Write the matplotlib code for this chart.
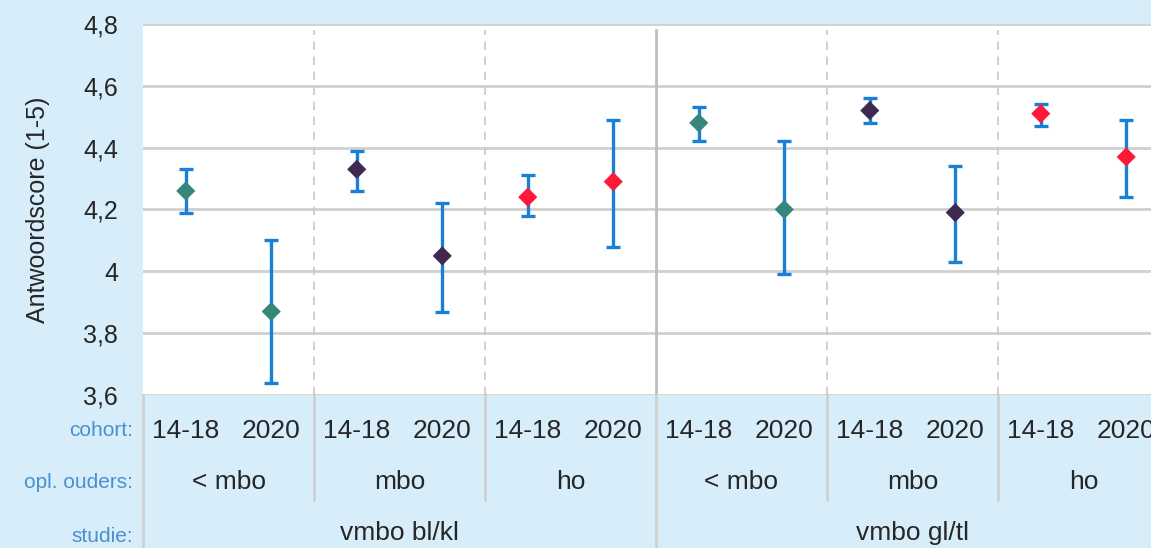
import matplotlib.pyplot as plt
import matplotlib.transforms as mtransforms

plt.rcParams['font.family'] = ['Liberation Sans', 'DejaVu Sans']

# gegevens
cohort = ['14-18', '2020'] * 6
ouders = ['< mbo', 'mbo', 'ho', '< mbo', 'mbo', 'ho']
studie = ['vmbo bl/kl', 'vmbo gl/tl']
score = [4.26, 3.87, 4.33, 4.05, 4.24, 4.29, 4.48, 4.20, 4.52, 4.19, 4.51, 4.37]
ondergrens = [4.19, 3.64, 4.26, 3.87, 4.18, 4.08, 4.42, 3.99, 4.48, 4.03, 4.47, 4.24]
bovengrens = [4.33, 4.10, 4.39, 4.22, 4.31, 4.49, 4.53, 4.42, 4.56, 4.34, 4.54, 4.49]
yticks = [3.6, 3.8, 4.0, 4.2, 4.4, 4.6, 4.8]
ytick_labels = ['3,6', '3,8', '4', '4,2', '4,4', '4,6', '4,8']

kleur_ouders = {'< mbo': '#35877a', 'mbo': '#40294f', 'ho': '#ff1838'}
bg = '#d7eefa'
tekstkleur = '#262626'
rijkleur = '#4a8fd0'
lijnkleur = '#d0d0d0'

W, H = 1151, 548
fig = plt.figure(figsize=(W / 100, H / 100), dpi=100, facecolor=bg)
left, right, top, bottom = 143, 1169, 24, 395
ax = fig.add_axes([left / W, (H - bottom) / H, (right - left) / W, (bottom - top) / H])
ax.set_facecolor('white')

x = list(range(len(score)))
yerr = [[s - lo for s, lo in zip(score, ondergrens)],
        [hi - s for s, hi in zip(score, bovengrens)]]

ax.errorbar(x, score, yerr=yerr, fmt='none', ecolor='#1a7fd6',
            elinewidth=2.4, capsize=5, capthick=2.4, zorder=3)
kleuren = [kleur_ouders[ouders[i // 2]] for i in x]
ax.scatter(x, score, marker='D', s=95, c=kleuren, zorder=4, linewidths=0)

ax.set_xlim(-0.5, len(score) - 0.5)
ax.set_ylim(3.6, 4.8)
ax.set_yticks(yticks)
ax.set_yticklabels(ytick_labels, fontsize=18, color=tekstkleur)
ax.set_xticks([])
ax.tick_params(axis='y', length=0, pad=18)
for s in ax.spines.values():
    s.set_visible(False)
for yv in yticks:
    ax.axhline(yv, color=lijnkleur, lw=2, zorder=1)

# scheidingslijnen in het plotgebied
for b in [1.5, 3.5, 7.5, 9.5]:
    ax.axvline(b, ymax=0.985, color='#c8c8c8', lw=1.2, ls=(0, (5, 4)), zorder=1)
ax.axvline(5.5, ymax=0.985, color='#bdbdbd', lw=2, zorder=1)

ax.set_ylabel('Antwoordscore (1-5)', fontsize=18, color=tekstkleur, labelpad=24)

# tabel onder de grafiek
trans = mtransforms.blended_transform_factory(ax.transData, ax.transAxes)
hpx = bottom - top


def ay(ypix):
    return (bottom - ypix) / hpx


for i, c in enumerate(cohort):
    ax.text(i, ay(431), c, transform=trans, ha='center', va='center',
            fontsize=19, color=tekstkleur, clip_on=False)
for g, o in enumerate(ouders):
    ax.text(2 * g + 0.5, ay(482), o, transform=trans, ha='center', va='center',
            fontsize=19, color=tekstkleur, clip_on=False)
for k, s in enumerate(studie):
    ax.text(6 * k + 2.5, ay(533), s, transform=trans, ha='center', va='center',
            fontsize=19, color=tekstkleur, clip_on=False)

for b in [1.5, 3.5, 7.5, 9.5]:
    ax.plot([b, b], [0, ay(500)], transform=trans, color=lijnkleur, lw=2, clip_on=False)
for b in [-0.5, 5.5]:
    ax.plot([b, b], [0, ay(H + 5)], transform=trans, color=lijnkleur, lw=2, clip_on=False)

for label, ypix in [('cohort:', 431), ('opl. ouders:', 482), ('studie:', 537)]:
    fig.text(133 / W, (H - ypix) / H, label, ha='right', va='center',
             fontsize=15, color=rijkleur)

fig.savefig('out.png', dpi=100, facecolor=bg)
